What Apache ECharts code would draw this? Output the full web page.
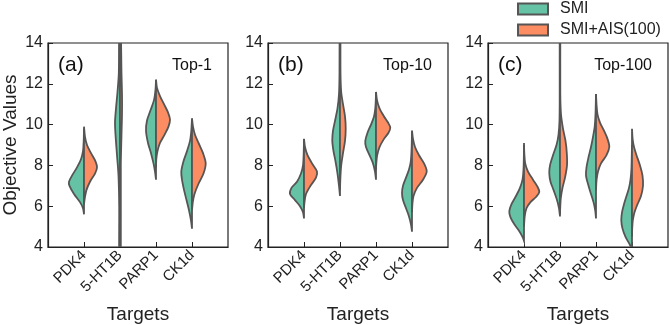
<!DOCTYPE html>
<html>
<head>
<meta charset="utf-8">
<script src="https://cdn.jsdelivr.net/npm/echarts@6/dist/echarts.min.js"></script>
<style>
  html, body { margin: 0; padding: 0; background: #fff; }
  #main { width: 669px; height: 325px; }
</style>
</head>
<body>
<div id="main"></div>
<script>
var targets = ['PDK4', '5-HT1B', 'PARP1', 'CK1d'];
var panelTags = ['(a)', '(b)', '(c)'];
var panelTitles = ['Top-1', 'Top-10', 'Top-100'];
var groups = ['SMI', 'SMI+AIS(100)'];

// half-violin profiles, one per target: [objective value, density width]
// density width is in 1/36 of the spacing between two targets
var smiTop1 = [
    [[5.6,0],[5.9,1],[6.2,4],[6.6,10],[7.0,14.5],[7.2,15],[7.5,12],[7.9,7],[8.3,3],[8.7,1],[9.2,0.3],[9.8,0]],
    [[3.5,0.8],[6,0.8],[7.5,1.5],[8.5,3],[9.5,4.5],[10.1,5],[10.8,4],[11.6,2.5],[12.5,1.2],[14.5,0.8]],
    [[7.3,0],[7.7,1],[8.1,2.5],[8.6,5],[9.1,8],[9.7,10],[10.2,9],[10.7,5.5],[11.2,2],[11.7,0.5],[12.2,0]],
    [[4.9,0],[5.3,1],[5.8,3],[6.3,5.5],[6.8,8],[7.3,10],[7.7,10.7],[8.2,8.5],[8.7,5],[9.2,2],[9.7,0.7],[10.3,0]]
];
var aisTop1 = [
    [[6.1,0],[6.4,0.8],[6.8,2.5],[7.2,6],[7.6,11],[7.9,13],[8.2,11.5],[8.6,7],[9.0,3],[9.4,1],[9.9,0]],
    [[3.5,0.8],[8,0.8],[9.5,1.5],[10.5,2],[11.5,2],[12.5,1.5],[14.5,0.8]],
    [[7.9,0],[8.3,0.3],[8.7,1.5],[9.1,4],[9.5,8.5],[9.9,12.5],[10.25,14],[10.6,12],[11.0,8],[11.4,4],[11.8,1],[12.2,0]],
    [[5.8,0],[6.2,0.8],[6.6,2.5],[7.1,6.5],[7.6,11.5],[8.1,13.7],[8.6,11],[9.1,6.5],[9.5,3],[9.9,1],[10.3,0]]
];
var smiTop10 = [
    [[5.4,0],[5.7,1],[6.0,4],[6.3,9],[6.6,14],[6.9,12.5],[7.2,7],[7.6,3],[8.0,1],[8.6,0.3],[9.3,0]],
    [[6.5,0],[7.0,1],[7.6,2.5],[8.2,4.5],[8.7,6.5],[9.2,7.7],[9.7,7],[10.3,4.5],[10.8,2.5],[11.5,1],[12.5,0.5],[14.5,0.4]],
    [[7.3,0],[7.7,1],[8.1,3],[8.5,6.5],[8.9,10],[9.2,10.7],[9.6,8.5],[10.0,5],[10.4,2],[10.8,0.7],[11.2,0.2],[11.6,0]],
    [[4.75,0],[5.1,1],[5.5,3],[5.9,6],[6.3,9],[6.65,10],[7.0,9],[7.4,6],[7.8,3],[8.2,1.2],[8.8,0.4],[9.7,0]]
];
var aisTop10 = [
    [[5.9,0],[6.2,0.5],[6.6,2],[7.0,6.5],[7.4,12],[7.7,13],[8.1,8],[8.5,3.5],[8.9,1],[9.3,0]],
    [[6.8,0],[7.4,0.4],[8.0,1.2],[8.6,3],[9.2,5],[9.8,5.7],[10.4,5],[11.0,3],[11.6,1.2],[12.5,0.5],[14.5,0.4]],
    [[7.8,0],[8.1,0.3],[8.5,1.2],[8.9,3.5],[9.3,8],[9.6,12.5],[9.85,14.3],[10.1,12],[10.4,8],[10.8,3.5],[11.2,1],[11.6,0]],
    [[5.7,0],[6.1,0.4],[6.5,1.5],[6.9,5],[7.3,11],[7.7,14.7],[8.1,12],[8.5,7],[8.9,3],[9.3,1],[9.7,0]]
];
var smiTop100 = [
    [[4.3,0],[4.5,1.5],[4.8,5],[5.1,9.5],[5.45,13.5],[5.75,14.7],[6.1,12.5],[6.5,8],[6.9,4],[7.3,1.5],[7.8,0.5],[8.5,0.1],[9.0,0]],
    [[5.5,0],[5.9,1],[6.3,3],[6.8,6.5],[7.2,9.5],[7.6,10.7],[8.0,10],[8.5,7],[9.0,3.5],[9.5,1.5],[10.2,0.5],[11.5,0.3],[14.5,0.3]],
    [[5.4,0],[5.8,0.8],[6.2,2.5],[6.6,5],[7.0,7.5],[7.5,10],[7.9,9.5],[8.4,7.5],[8.9,5],[9.4,3],[9.9,1.3],[10.5,0.5],[11.5,0]],
    [[3.9,0],[4.1,2],[4.5,6.5],[4.9,9.5],[5.3,10.7],[5.7,10],[6.1,8],[6.5,5.5],[6.9,3],[7.3,1.5],[7.8,0.6],[8.5,0.2],[9.0,0]]
];
var aisTop100 = [
    [[5.0,0],[5.5,0.7],[5.9,2.5],[6.2,6.5],[6.45,12],[6.7,15.3],[7.0,13],[7.3,9],[7.7,4],[8.1,1.2],[8.6,0.3],[9.1,0]],
    [[5.6,0],[5.9,0.2],[6.4,0.8],[6.9,2.5],[7.4,5],[8.0,7],[8.6,6.8],[9.2,5.5],[9.8,3],[10.5,1],[11.5,0.3],[14.5,0.3]],
    [[6.8,0],[7.3,0.6],[7.7,2],[8.1,5],[8.5,10.5],[8.9,13.3],[9.3,11.5],[9.7,8],[10.1,4],[10.5,1.5],[11.0,0.5],[11.5,0]],
    [[4.5,0],[4.9,0.2],[5.3,0.8],[5.7,2.5],[6.1,5.5],[6.5,9],[7.0,11],[7.5,10.5],[8.0,8],[8.5,4.5],[8.9,2],[9.3,0.6],[9.8,0]]
];

var smiPanels = [smiTop1, smiTop10, smiTop100];
var aisPanels = [aisTop1, aisTop10, aisTop100];
var WIDTH_UNITS = 36;

var colors = ['#66c2a5', '#fc8d62'];
var edge = '#555555';
var fontFam = '"Liberation Sans", Arial, sans-serif';

// categories padded with blanks so the targets sit one step in from the frame
var cats = [''].concat(targets).concat(['']);
var isTarget = function (idx, val) { return val !== ''; };

var myChart = echarts.init(document.getElementById('main'), null, { renderer: 'canvas' });

function halfViolin(profiles, side) {
    return function (params, api) {
        var i = params.dataIndex;
        var prof = profiles[i];
        var unit = api.size([1, 0])[0] / WIDTH_UNITS;
        var pts = [];
        prof.forEach(function (p) {
            var c = api.coord([i + 1, p[0]]);
            pts.push([c[0] + side * p[1] * unit, c[1]]);
        });
        for (var k = prof.length - 1; k >= 0; k--) {
            pts.push(api.coord([i + 1, prof[k][0]]));
        }
        return {
            type: 'polygon',
            shape: { points: pts, smooth: 0.3 },
            style: { fill: colors[side < 0 ? 0 : 1], stroke: edge, lineWidth: 1.8 }
        };
    };
}

var grids = [], xAxes = [], yAxes = [], series = [], titles = [];
var lefts = [48, 268, 488];

for (var g = 0; g < 3; g++) {
    grids.push({
        left: lefts[g], top: 43, width: 180, height: 204,
        outerBoundsMode: 'none', containLabel: false,
        show: true, borderColor: '#222', borderWidth: 1.2, backgroundColor: 'transparent'
    });
    xAxes.push({
        gridIndex: g, type: 'category', data: cats, boundaryGap: false,
        name: 'Targets', nameLocation: 'middle', nameGap: 58,
        nameTextStyle: { fontSize: 19, color: '#222', fontFamily: fontFam },
        axisLine: { show: true, lineStyle: { color: '#222', width: 1.2 } },
        axisTick: { show: true, inside: true, length: 5, interval: isTarget, lineStyle: { color: '#222' } },
        axisLabel: { interval: isTarget, rotate: 45, fontSize: 15, color: '#222', margin: 6, fontFamily: fontFam },
        splitLine: { show: false }
    });
    yAxes.push({
        gridIndex: g, type: 'value', min: 4, max: 14, interval: 2,
        name: g === 0 ? 'Objective Values' : '', nameLocation: 'middle', nameGap: 28,
        nameTextStyle: { fontSize: 19, color: '#222', fontFamily: fontFam },
        axisLine: { show: true, lineStyle: { color: '#222', width: 1.2 } },
        axisTick: { show: true, inside: true, length: 5, lineStyle: { color: '#222' } },
        axisLabel: { fontSize: 16, color: '#222', margin: 5, fontFamily: fontFam },
        splitLine: { show: false }
    });
    var profs = [smiPanels[g], aisPanels[g]];
    for (var s = 0; s < 2; s++) {
        series.push({
            type: 'custom', name: groups[s], xAxisIndex: g, yAxisIndex: g,
            clip: true,
            itemStyle: { color: colors[s], borderColor: edge, borderWidth: 1.5 },
            renderItem: halfViolin(profs[s], s === 0 ? -1 : 1),
            encode: { x: 0, y: 1 },
            data: targets.map(function (t, i) { return [i + 1, 8]; }),
            silent: true
        });
    }
    titles.push({
        text: panelTags[g], left: lefts[g] + 10, top: 55, padding: 0,
        textStyle: { fontSize: 21, fontWeight: 'normal', color: '#111', fontFamily: fontFam }
    });
    titles.push({
        text: panelTitles[g], right: 669 - (lefts[g] + 180) + 16, top: 58, padding: 0,
        textStyle: { fontSize: 16, fontWeight: 'normal', color: '#111', fontFamily: fontFam }
    });
}

var option = {
    animation: false,
    backgroundColor: '#fff',
    title: titles,
    legend: {
        data: groups, orient: 'vertical', left: 517, top: 1, padding: 0,
        itemWidth: 30, itemHeight: 11, itemGap: 5,
        icon: 'rect',
        textStyle: { fontSize: 16, color: '#222', fontFamily: fontFam, padding: [0, 0, 0, 7] }
    },
    grid: grids,
    xAxis: xAxes,
    yAxis: yAxes,
    series: series
};

myChart.setOption(option);
</script>
</body>
</html>
